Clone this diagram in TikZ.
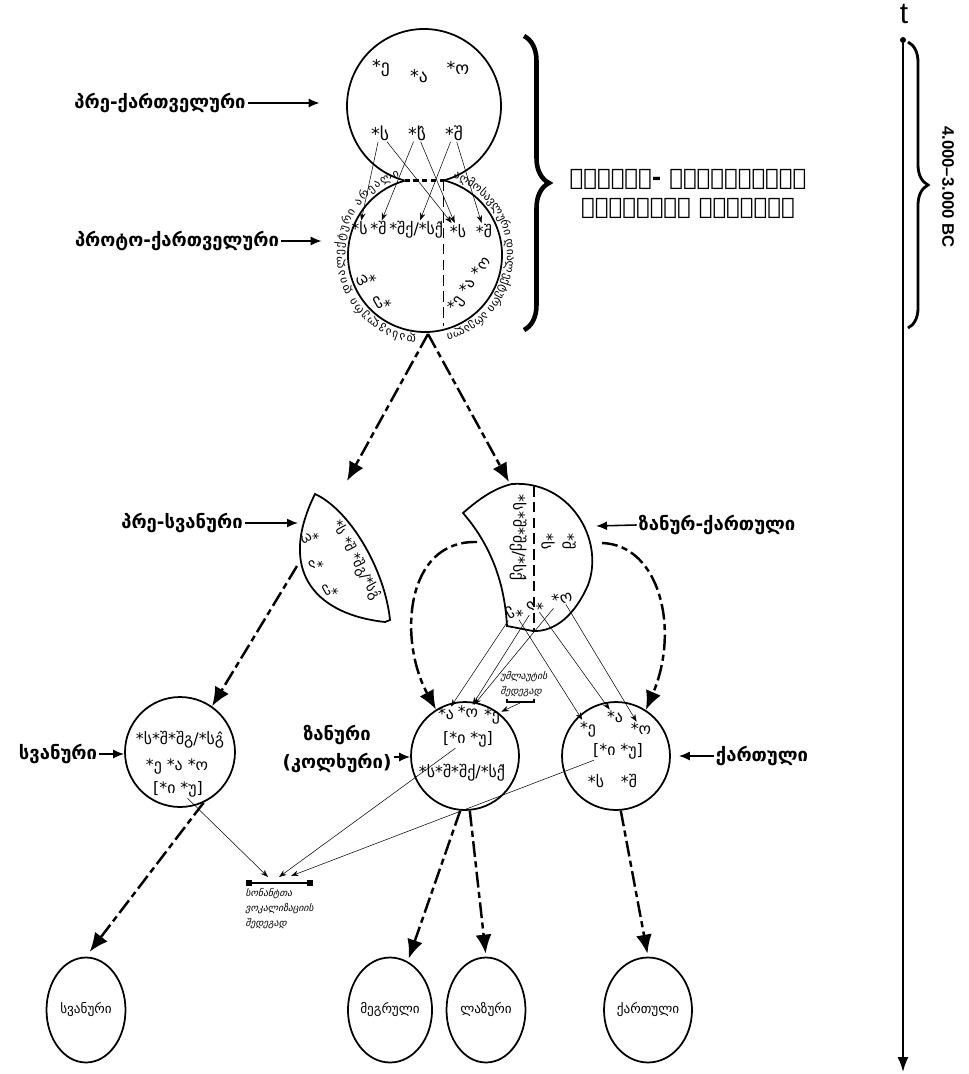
\documentclass[tikz,border=0pt]{standalone}
\usepackage{fontspec}
\setmainfont{DejaVu Sans}
\newfontfamily\geoslant[FakeSlant=0.25]{DejaVu Sans}
\newfontfamily\arial{Liberation Sans}
\usetikzlibrary{arrows.meta,shapes.geometric,decorations.pathreplacing,decorations.text}
\tikzset{ring/.style={circle,draw,line width=1pt,inner sep=0pt}}
\tikzset{oval/.style={ellipse,draw,line width=1pt,inner sep=0pt,minimum width=1.58cm,minimum height=2.1cm,font=\fontsize{7.5}{9}\selectfont}}
\tikzset{lbl/.style={inner sep=1pt,font=\bfseries\fontsize{10.5}{16}\selectfont}}
\tikzset{snd/.style={inner sep=0.6pt,font=\fontsize{9}{10}\selectfont}}
\tikzset{note/.style={inner sep=0pt,align=left,font=\geoslant\fontsize{5.5}{8.5}\selectfont}}
\tikzset{ptr/.style={-{Latex[length=2.2mm,width=1.8mm]},line width=0.9pt}}
\tikzset{fine/.style={-{Stealth[length=1.5mm,width=1.1mm]},line width=0.3pt}}
\tikzset{descent/.style={-{Latex[length=3.8mm,width=3.2mm]},line width=1.4pt,dash pattern=on 9pt off 2.5pt on 3.5pt off 2.5pt}}
\tikzset{divider/.style={line width=0.9pt,dash pattern=on 6pt off 3pt}}
\tikzset{arcnote/.style={decorate,decoration={text along path,text align={fit to path},text={#1}}}}

\begin{document}
\begin{tikzpicture}[x=0.02cm,y=-0.02cm]
\useasboundingbox (0,0) rectangle (969,1074);

% time axis
\node[inner sep=0pt,font=\arial\fontsize{17}{18}\selectfont] (t) at (904,14) {t};
\node[circle,fill,inner sep=0pt,minimum size=0.12cm] (t0) at (903,40) {};
\coordinate (tend) at (903,1072);
\draw[-{Latex[length=3mm,width=2.2mm]},line width=1pt] (t0) -- (tend);
\draw[decorate,decoration={brace,amplitude=0.4cm},line width=1.6pt] (908,42) -- (908,328);
\node[rotate=-90,font=\arial\bfseries\fontsize{9.5}{10}\selectfont] (era) at (948,187) {4.000–3.000 BC};

% common Kartvelian system
\node[circle,inner sep=0pt,minimum size=3.08cm] (pre) at (424,106) {};
\draw[line width=1pt] (424,106) ++(104.7:77) arc[start angle=104.7,end angle=435.3,radius=77];
\node[circle,inner sep=0pt,minimum size=3.08cm] (pk) at (425,255) {};
\draw[line width=1pt] (425,255) ++(283.9:77) arc[start angle=283.9,end angle=614.6,radius=77];
\coordinate (lensL) at (404.5,180.5);
\coordinate (lensR) at (443.5,180.5);
\draw[line width=2pt,dash pattern=on 3pt off 2pt] (lensL) -- (lensR);
\draw[divider] (lensR) -- (443.5,326);
\coordinate (pkFoot) at (428,334);

\draw[decorate,decoration={brace,amplitude=0.5cm},line width=2.6pt] (524,36) -- (524,330);
\node[align=center,inner sep=0pt,font=\bfseries\fontsize{13}{16}\selectfont] (sysname) at (688,194) {ᲡᲐᲔᲠᲗᲝ- ᲥᲐᲠᲗᲕᲔᲚᲣᲠᲘ\\ᲔᲜᲝᲑᲠᲘᲕᲘ ᲡᲘᲡᲢᲔᲛᲐ};

\node[lbl] (prelbl) at (160,103) {პრე-ქართველური};
\draw[ptr,shorten >=0.54cm] (prelbl.east) -- (pre.west |- prelbl.east);
\node[lbl] (pklbl) at (177,241) {პროტო-ქართველური};
\draw[ptr,shorten >=0.52cm] (pklbl.east) -- (pk.west |- pklbl.east);

\node[snd,font=\fontsize{10}{11}\selectfont] (preE) at (381,68) {*ე};
\node[snd,font=\fontsize{10}{11}\selectfont] (preA) at (419,76) {*ა};
\node[snd,font=\fontsize{10}{11}\selectfont] (preO) at (458,68) {*ო};
\node[snd,font=\fontsize{10}{11}\selectfont] (preS) at (380,133) {*ს};
\node[snd,font=\fontsize{10}{11}\selectfont] (preSc) at (417,133) {*ს̂};
\node[snd,font=\fontsize{10}{11}\selectfont] (preSh) at (454,133) {*შ};

\node[snd,anchor=base west] (pkLs) at (350,235) {*ს};
\node[snd,anchor=base west] (pkLsh) at (pkLs.base east) {*შ};
\node[snd,anchor=base west] (pkLshk) at (pkLsh.base east) {*შქ/*სქ̂};
\node[snd] (pkRs) at (458,231) {*ს};
\node[snd] (pkRsh) at (484,231) {*შ};
\node[snd,rotate=-150] (pkO) at (366,280) {*ო};
\node[snd,rotate=-150] (pkE) at (382,302) {*ე};
\node[snd,rotate=55] (pkV) at (470,285) {*ე *ა *ო};

\draw[fine] (preS) -- (pkLs);
\draw[fine] (preS) -- (pkRs);
\draw[fine] (preSc) -- (pkLsh);
\draw[fine] (preSc) -- (pkRs);
\draw[fine] (preSh) -- (pkLshk);
\draw[fine] (preSh) -- (pkRsh);

\path[arcnote={|\fontsize{6.5}{7}\selectfont|დასავლური დიალექტური არეალი}]
  (425,255) ++(96:82) arc[start angle=96,end angle=252,radius=82];
\path[arcnote={|\fontsize{6.5}{7}\selectfont|აღმოსავლური დიალექტური არეალი}]
  (425,255) ++(290:82) arc[start angle=290,end angle=435,radius=82];

% pre-Svan
\draw[line width=1pt] (315,494) .. controls (350,510) and (385,570) .. (390,620) -- (385,622)
  .. controls (320,615) and (275,575) .. (315,494) -- cycle;
\coordinate (psvIn) at (347,481);
\coordinate (psvW) at (301,523);
\coordinate (psvOut) at (297,566);
\node[lbl] (psvlbl) at (182,523) {პრე-სვანური};
\draw[ptr,shorten >=0.06cm] (psvlbl.east) -- (psvW);
\node[snd,rotate=-62,font=\fontsize{8}{9}\selectfont] (psvCl) at (356,560) {*ს *შ *შგ/*სგ̂};
\node[snd,rotate=-150,font=\fontsize{8}{9}\selectfont] (psvO) at (310,538) {*ო};
\node[snd,rotate=-150,font=\fontsize{8}{9}\selectfont] (psvA) at (316,564) {*ა};
\node[snd,rotate=-150,font=\fontsize{8}{9}\selectfont] (psvE) at (330,590) {*ე};

% Zan-Georgian
\draw[line width=1pt] (463,513) .. controls (480,498) and (495,488) .. (512,484)
  .. controls (570,480) and (605,540) .. (588,585) .. controls (575,615) and (555,632) .. (533,631)
  -- (507,626) .. controls (505,590) and (495,550) .. (463,513) -- cycle;
\draw[divider] (534,486) -- (534,630);
\coordinate (zkTop) at (509,482);
\coordinate (zkL) at (477,542);
\coordinate (zkR) at (602,543);
\coordinate (zkEast) at (596,526);
\node[lbl] (zklbl) at (717,525) {ზანურ-ქართული};
\draw[ptr] (zklbl.west) -- (zkEast);
\node[snd,rotate=-90] (zkCl) at (518,538) {*ს*შ*შქ/*სქ̂};
\node[snd,rotate=-90] (zkS) at (548,542) {*ს};
\node[snd,rotate=-90] (zkSh) at (569,542) {*შ};
\node[snd,rotate=-150] (zkE) at (514,612) {*ე};
\node[snd,rotate=-150] (zkA) at (535,606) {*ა};
\node[snd,rotate=20] (zkO) at (562,598) {*ო};

\draw[descent] (pkFoot) -- (psvIn);
\draw[descent] (pkFoot) -- (zkTop);

% Svan
\node[ring,minimum size=2.2cm] (svn) at (180,752) {};
\node[lbl] (svlbl) at (58,754) {სვანური};
\draw[ptr] (svlbl.east) -- (svn.west |- svlbl.east);
\node[snd] (svCl) at (180,740) {*ს*შ*შგ/*სგ̂};
\node[snd] (svV) at (177,766) {*ე *ა *ო};
\node[snd] (svIU) at (178,789) {[*ი *უ]};
\draw[descent] (psvOut) -- (svn.55);

% Zan
\node[ring,minimum size=2.16cm] (zan) at (465,756) {};
\node[lbl,align=center] (znlbl) at (337,749) {ზანური\\(კოლხური)};
\draw[ptr] (znlbl.east |- 0,757) -- (zan.west |- 0,757);
\node[snd] (znA) at (446,714) {*ა};
\node[snd] (znO) at (468,712) {*ო};
\node[snd] (znE) at (492,716) {*ე};
\node[snd] (znIU) at (468,739) {[*ი *უ]};
\node[snd] (znCl) at (462,773) {*ს*შ*შქ/*სქ̂};
\draw[descent] (zkL) .. controls (405,540) and (398,640) .. (zan.122);

\draw[line width=0.7pt] (507,699) -- (507,702) -- (534,702) -- (534,699);
\coordinate (umlB) at (520,703);
\node[note,anchor=north west] (umlnote) at (500,671) {უმლაუტის\\შედეგად};
\draw[fine] (umlB) -- (znE);

% Georgian
\node[ring,minimum size=2.16cm] (kar) at (616,756) {};
\node[lbl] (karlbl) at (762,756) {ქართული};
\draw[ptr,shorten >=0.16cm] (karlbl.west) -- (kar.east);
\node[snd] (kE) at (588,729) {*ე};
\node[snd] (kA) at (615,717) {*ა};
\node[snd] (kO) at (641,729) {*ო};
\node[snd] (kIU) at (618,751) {[*ი *უ]};
\node[snd] (kS) at (596,781) {*ს};
\node[snd] (kSh) at (629,781) {*შ};
\draw[descent] (zkR) .. controls (660,545) and (680,630) .. (kar.57);

\draw[fine] (zkE) -- (znA);
\draw[fine] (zkA) -- (znO);
\draw[fine] (zkO) -- (znO);
\draw[fine] (zkE) -- (kE);
\draw[fine] (zkA) -- (kA);
\draw[fine] (zkO) -- (kO);

% sonant vocalization
\draw[line width=1.4pt] (249,883) -- (310,883);
\fill (246,880) rectangle (252,886);
\fill (307,880) rectangle (313,886);
\coordinate (vocA) at (268,877);
\coordinate (vocB) at (279,877);
\coordinate (vocC) at (291,876);
\node[note,anchor=north west] (sonnote) at (245,888) {სონანტთა\\ვოკალიზაციის\\შედეგად};
\draw[fine] (svIU) -- (vocA);
\draw[fine] (znIU) -- (vocB);
\draw[fine] (kIU) -- (vocC);

% modern languages
\node[oval] (svB) at (86,1010) {სვანური};
\node[oval] (meg) at (390,1010) {მეგრული};
\node[oval] (laz) at (486,1010) {ლაზური};
\node[oval] (kaB) at (648,1010) {ქართული};
\draw[descent,shorten >=0.12cm] (svn.295) -- (svB.north);
\draw[descent,shorten >=0.06cm] (zan.265) -- (meg.70);
\draw[descent,shorten >=0.06cm] (zan.275) -- (laz.north);
\draw[descent,shorten >=0.06cm] (kar.275) -- (kaB.north);

\end{tikzpicture}
\end{document}
